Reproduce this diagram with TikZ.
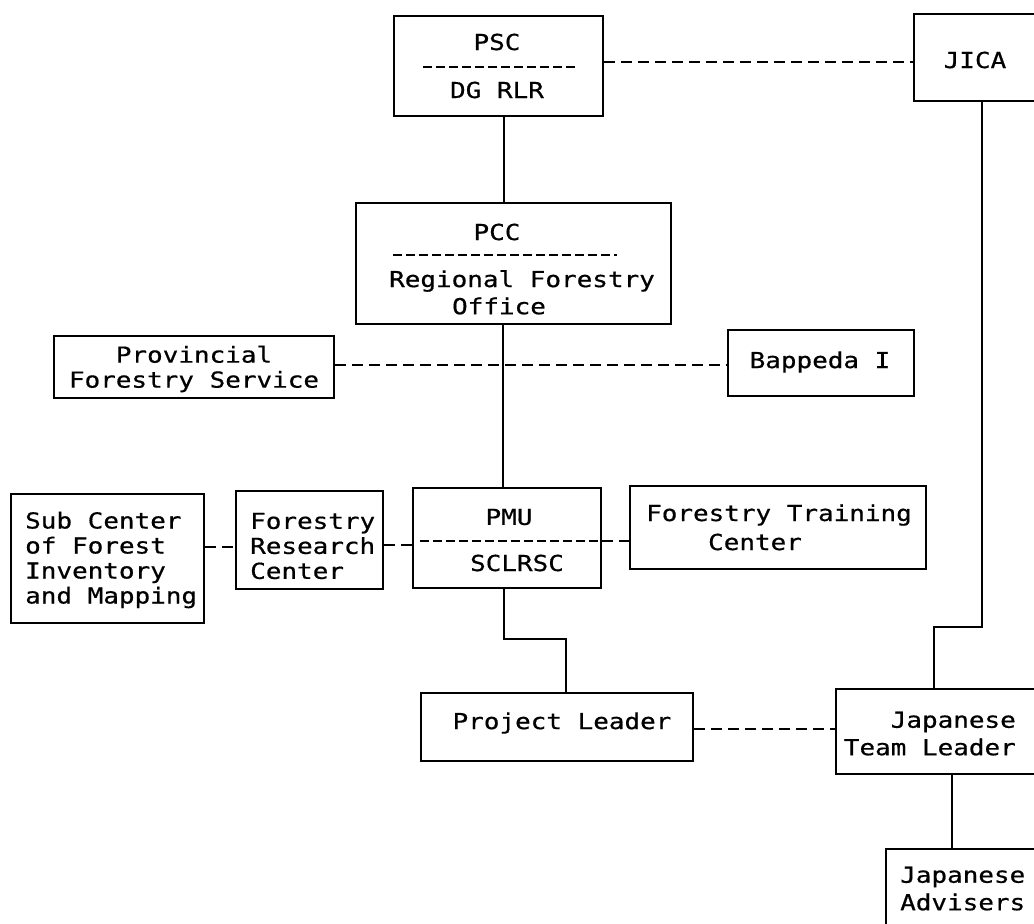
\documentclass[tikz,border=0pt]{standalone}
\usepackage{fontspec}
\newfontfamily\plotfont[FakeStretch=1.18,FakeBold=0.6]{DejaVu Sans Mono}
\begin{document}
\begin{tikzpicture}[x=1pt,y=-1pt,
  box/.style={draw=black, line width=2pt, inner sep=0pt, anchor=north west},
  lbl/.style={font=\plotfont\fontsize{22}{25}\selectfont, inner sep=0pt, text=black},
  solidline/.style={draw=black, line width=2pt},
  dashline/.style={draw=black, line width=1.8pt, dash pattern=on 11pt off 6pt},
  divline/.style={draw=black, line width=1.8pt, dash pattern=on 9pt off 4pt}]
\useasboundingbox (0,0) rectangle (1034,924);
\fill[white] (0,0) rectangle (1034,924);
\clip (0,0) rectangle (1034,924);
% boxes
\node[box, minimum width=209pt, minimum height=100pt] (psc) at (393,15) {};
\node[box, minimum width=150pt, minimum height=87pt] (jica) at (913,13) {};
\node[box, minimum width=315pt, minimum height=121pt] (pcc) at (355,202) {};
\node[box, minimum width=280pt, minimum height=62pt] (prov) at (53,335) {};
\node[box, minimum width=186pt, minimum height=66pt] (bap) at (727,329) {};
\node[box, minimum width=193pt, minimum height=129pt] (sub) at (10,493) {};
\node[box, minimum width=147pt, minimum height=98pt] (frc) at (235,490) {};
\node[box, minimum width=188pt, minimum height=100pt] (pmu) at (412,487) {};
\node[box, minimum width=296pt, minimum height=83pt] (ftc) at (629,485) {};
\node[box, minimum width=272pt, minimum height=68pt] (pl) at (420,692) {};
\node[box, minimum width=220pt, minimum height=85pt] (tl) at (835,688) {};
\node[box, minimum width=170pt, minimum height=100pt] (adv) at (885,848) {};
% dividers
\draw[divline] (423,67) -- (575,67);
\draw[divline] (393,255) -- (617,255);
\draw[divline] (420,541) -- (pmu.east |- 0,541);
% texts
\node[lbl] (t-psc) at (497,42) {PSC};
\node[lbl] (t-dg) at (497,90) {DG RLR};
\node[lbl] (t-jica) at (975,60) {JICA};
\node[lbl] (t-pcc) at (497,232) {PCC};
\node[lbl] (t-rfo1) at (522,281) {Regional Forestry};
\node[lbl] (t-rfo2) at (499,306) {Office};
\node[lbl, align=center] (t-prov) at (194,369) {Provincial\\Forestry Service};
\node[lbl] (t-bap) at (820,362) {Bappeda I};
\node[lbl, align=left, anchor=west] (t-sub) at (25,560) {Sub Center\\of Forest\\Inventory\\and Mapping};
\node[lbl, align=left, anchor=west] (t-frc) at (250,546) {Forestry\\Research\\Center};
\node[lbl] (t-pmu) at (509,517) {PMU};
\node[lbl] (t-scl) at (517,563) {SCLRSC};
\node[lbl] (t-ftc1) at (779,515) {Forestry Training};
\node[lbl] (t-ftc2) at (755,542) {Center};
\node[lbl] (t-pl) at (562,723) {Project Leader};
\node[lbl, anchor=east] (t-tl1) at (1016,722) {Japanese};
\node[lbl, anchor=east] (t-tl2) at (1016,747) {Team Leader};
\node[lbl, anchor=west] (t-adv1) at (900,877) {Japanese};
\node[lbl, anchor=west] (t-adv2) at (900,902) {Advisers};
% connectors
\coordinate (jdown) at (982,627);
\coordinate (pmudown) at (504,639);
\draw[dashline] (psc.east |- 0,62) -- (jica.west |- 0,62);
\draw[solidline] (psc.south -| 504,0) -- (pcc.north -| 504,0);
\draw[solidline] (pcc.south -| 503,0) -- (pmu.north -| 503,0);
\draw[dashline] (prov.east |- 0,365) -- (bap.west |- 0,365);
\draw[dashline] (sub.east |- 0,547) -- (frc.west |- 0,547);
\draw[dashline] (frc.east |- 0,545) -- (pmu.west |- 0,545);
\draw[dashline] (pmu.east |- 0,541) -- (ftc.west |- 0,541);
\draw[solidline] (jica.south -| jdown) -- (jdown) -| (tl.north -| 934,0);
\draw[solidline] (pmu.south -| pmudown) -- (pmudown) -| (pl.north -| 566,0);
\draw[dashline] (pl.east |- 0,729) -- (tl.west |- 0,729);
\draw[solidline] (tl.south -| 952,0) -- (adv.north -| 952,0);
\end{tikzpicture}
\end{document}
